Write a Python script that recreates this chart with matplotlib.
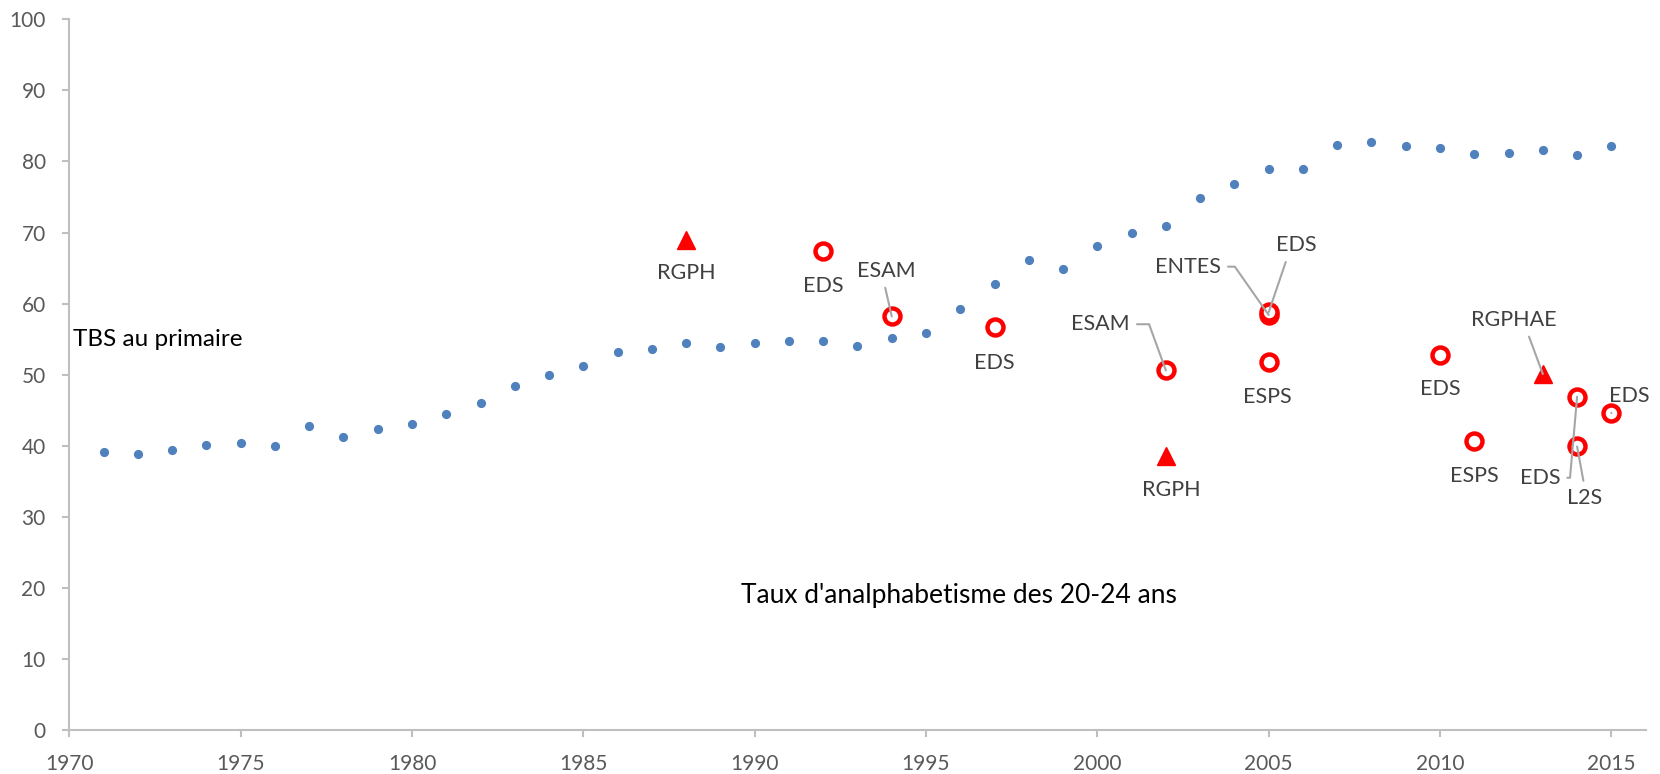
import matplotlib
matplotlib.use('Agg')
import matplotlib.pyplot as plt

plt.rcParams['font.family'] = ['Lato', 'DejaVu Sans']

# TBS au primaire (blue dots)
years = list(range(1971, 2016))
tbs = [39.1, 38.8, 39.4, 40.1, 40.4, 40.0, 42.8, 41.3, 42.3, 43.1,
       44.4, 46.0, 48.4, 50.0, 51.2, 53.2, 53.6, 54.5, 53.9, 54.4,
       54.8, 54.7, 54.1, 55.1, 55.9, 59.3, 62.8, 66.1, 64.9, 68.1,
       70.0, 70.9, 74.8, 76.8, 78.9, 78.9, 82.3, 82.8, 82.2, 81.9,
       81.0, 81.2, 81.6, 80.9, 82.2]

# Taux d'analphabetisme des 20-24 ans (red markers, by survey)
surv_years = [1988, 1992, 1994, 1997, 2002, 2002, 2005, 2005, 2005, 2010, 2011, 2013, 2014, 2014, 2015]
surv_vals = [68.9, 67.4, 58.2, 56.7, 50.6, 38.5, 58.4, 58.8, 51.8, 52.8, 40.6, 50.1, 46.9, 39.9, 44.6]
surv_names = ['RGPH', 'EDS', 'ESAM', 'EDS', 'ESAM', 'RGPH', 'ENTES', 'EDS', 'ESPS', 'EDS', 'ESPS', 'RGPHAE', 'EDS', 'L2S', 'EDS']
census = ['RGPH', 'RGPHAE']

# label positions and leader lines: (x, y, relpos, connection)
label_pos = [
    (1988.0, 64.3, None, None),
    (1992.0, 62.5, None, None),
    (1993.85, 64.6, (0.45, 0), 'arc3'),
    (1997.0, 51.6, None, None),
    (2000.1, 57.1, (1, 0.5), 'angle,angleA=0,angleB=110,rad=0'),
    (2002.17, 33.8, None, None),
    (2002.65, 65.2, (1, 0.5), 'angle,angleA=0,angleB=125,rad=0'),
    (2005.8, 68.2, (0.3, 0), 'arc3'),
    (2004.95, 46.9, None, None),
    (2010.0, 48.0, None, None),
    (2011.0, 35.8, None, None),
    (2012.15, 57.7, (0.65, 0), 'arc3'),
    (2012.92, 35.5, (1, 0.5), 'angle,angleA=0,angleB=85,rad=0'),
    (2014.22, 32.7, (0.5, 1), 'arc3'),
    (2015.52, 47.0, (0.1, 0), 'arc3'),
]

fig = plt.figure(figsize=(16.6, 7.74), dpi=100)
ax = fig.add_axes([0.04175, 0.0568, 0.9496, 0.9182])

ax.plot(years, tbs, 'o', color='#4F81BD', ms=5.6, ls='none', zorder=3)

for x, y, name in zip(surv_years, surv_vals, surv_names):
    if name in census:
        ax.plot(x, y, '^', color='#FF0000', ms=12.5, ls='none', zorder=4)
    else:
        ax.plot(x, y, 'o', mfc='white', mec='#FF0000', mew=3.2, ms=11.5, ls='none', zorder=4)

# labels + leader lines (leaders drawn over the markers, like the original)
for (x, y, name), (tx, ty, rel, conn) in zip(zip(surv_years, surv_vals, surv_names), label_pos):
    if conn is None:
        ax.text(tx, ty, name, ha='center', va='center', fontsize=15.5, color='#404040')
    else:
        ax.annotate(name, xy=(x, y), xytext=(tx, ty), ha='center', va='center',
                    fontsize=15.5, color='#404040', zorder=5,
                    arrowprops=dict(arrowstyle='-', color='#A6A6A6', lw=1.5,
                                    relpos=rel, shrinkA=3, shrinkB=0,
                                    connectionstyle=conn))

ax.text(1970.1, 55.0, 'TBS au primaire', ha='left', va='center', fontsize=17.5, color='black')
ax.text(1995.97, 18.9, "Taux d'analphabetisme des 20-24 ans", ha='center', va='center',
        fontsize=19, color='black')

ax.set_xlim(1970, 2016)
ax.set_ylim(0, 100)
ax.set_xticks(range(1970, 2016, 5))
ax.set_yticks(range(0, 101, 10))

for side in ['top', 'right']:
    ax.spines[side].set_visible(False)
for side in ['left', 'bottom']:
    ax.spines[side].set_color('#BFBFBF')
    ax.spines[side].set_linewidth(1.5)
ax.tick_params(axis='both', colors='#BFBFBF', labelcolor='#595959', labelsize=15,
               width=1.5, length=5)
ax.tick_params(axis='x', pad=12)
ax.tick_params(axis='y', pad=12)

fig.savefig('out.png', dpi=100)
